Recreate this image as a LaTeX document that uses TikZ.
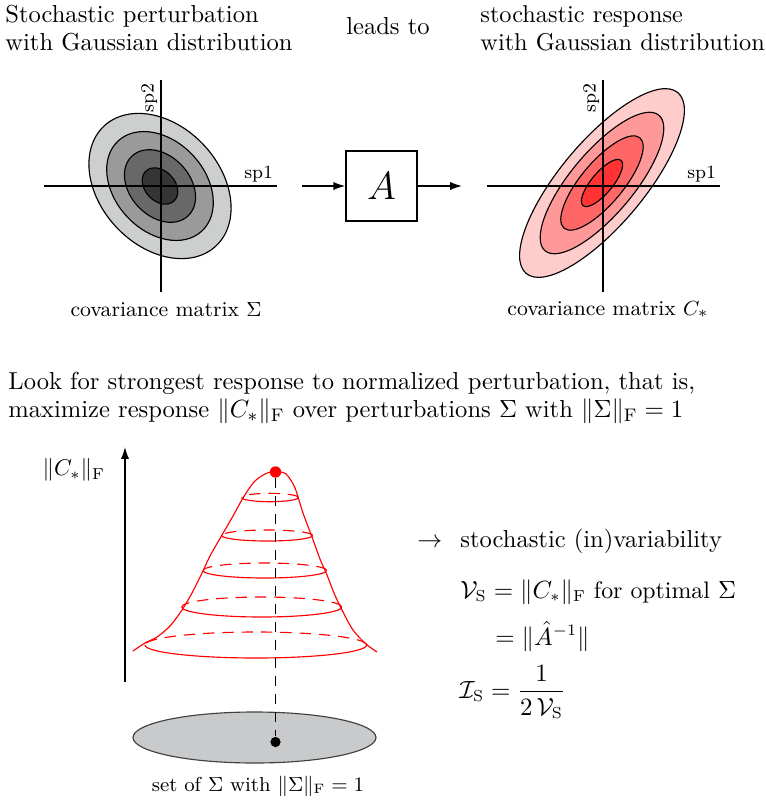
\documentclass[tikz,border=0pt]{standalone}
\usepackage{amsmath}
\usetikzlibrary{arrows.meta}
\definecolor{sigmalight}{RGB}{205,207,207}
\definecolor{sigmamid}{RGB}{154,154,154}
\definecolor{sigmadark}{RGB}{104,104,104}
\definecolor{sigmacore}{RGB}{53,53,53}
\definecolor{resplight}{RGB}{255,204,204}
\definecolor{respmid}{RGB}{255,153,153}
\definecolor{respdark}{RGB}{255,102,102}
\definecolor{respcore}{RGB}{255,51,51}
\definecolor{bellred}{RGB}{255,0,0}
\definecolor{basegray}{RGB}{200,202,203}

\begin{document}
\begin{tikzpicture}[x=0.44pt, y=0.44pt, font=\fontsize{10.8}{12.3}\selectfont, >={Latex[length=5.2pt,width=3.6pt]}]
\useasboundingbox (0,0) rectangle (766,-801);
\node[anchor=north west, align=left, inner sep=0] (titleL) at (5,-5) {Stochastic perturbation\\with Gaussian distribution};
\node[anchor=base] (leads) at (388,-34) {leads to};
\node[anchor=north west, align=left, inner sep=0, font=\fontsize{10.7}{12.3}\selectfont] (titleR) at (480,-5) {stochastic response\\with Gaussian distribution};
\foreach \s/\c in {1/sigmalight, 0.75/sigmamid, 0.5/sigmadark, 0.25/sigmacore}
  \draw[fill=\c, line width=0.5pt, rotate around={-47:(160,-186)}] (160,-186) ellipse [x radius=82*\s, y radius=60*\s];
\coordinate (sigW) at (44,-186);
\coordinate (sigE) at (277,-186);
\coordinate (sigS) at (161,-292);
\coordinate (sigN) at (161,-80);
\draw[line width=0.6pt] (sigW) -- (sigE);
\draw[line width=0.6pt] (sigS) -- (sigN);
\node[anchor=south east, font=\fontsize{8.2}{10}\selectfont, inner sep=1.5pt] (sigone) at (sigE) {sp1};
\node[anchor=south east, rotate=90, font=\fontsize{8.2}{10}\selectfont, inner sep=1.5pt] (sigtwo) at (sigN) {sp2};
\node[anchor=base, font=\fontsize{9.3}{11}\selectfont] (covsig) at (166,-316) {covariance matrix $\Sigma$};
\coordinate (ain) at (302,-186);
\node[draw, line width=0.9pt, minimum size=31pt, font=\fontsize{18}{20}\selectfont] (sysA) at (381.5,-186) {$A$};
\coordinate (aout) at (462,-186);
\draw[->, line width=0.6pt] (ain) -- (sysA);
\draw[->, line width=0.6pt] (sysA) -- (aout);
\foreach \s/\c in {1/resplight, 0.75/respmid, 0.5/respdark, 0.25/respcore}
  \draw[fill=\c, line width=0.5pt, rotate around={50:(602,-183)}] (602,-183) ellipse [x radius=118*\s, y radius=42*\s];
\coordinate (respW) at (487,-186);
\coordinate (respE) at (720,-186);
\coordinate (respS) at (603,-292);
\coordinate (respN) at (603,-80);
\draw[line width=0.7pt] (respW) -- (respE);
\draw[line width=1.1pt] (respS) -- (respN);
\node[anchor=south east, font=\fontsize{8.2}{10}\selectfont, inner sep=1.5pt] (respone) at (respE) {sp1};
\node[anchor=south east, rotate=90, font=\fontsize{8.2}{10}\selectfont, inner sep=1.5pt] (resptwo) at (respN) {sp2};
\node[anchor=base, font=\fontsize{9.3}{11}\selectfont] (covresp) at (608,-315) {covariance matrix $C_*$};
\node[anchor=north west, align=left, inner sep=0] (task) at (8,-372) {Look for strongest response to normalized perturbation, that is,\\maximize response $\|C_*\|_{\mathrm{F}}$ over perturbations $\Sigma$ with $\|\Sigma\|_{\mathrm{F}}=1$};
\coordinate (cbot) at (125,-682);
\coordinate (ctop) at (125,-447);
\draw[->, line width=0.6pt] (cbot) -- (ctop);
\node[anchor=east, font=\normalsize] (cnorm) at (113,-470) {$\|C_*\|_{\mathrm{F}}$};
\draw[fill=basegray, draw=black!75, line width=0.5pt] (254.5,-737.5) ellipse [x radius=121.5, y radius=25.5];
\draw[bellred, line width=0.5pt] plot[smooth, tension=0.5] coordinates {(133,-651) (145,-643) (157,-637) (170,-626) (182,-610) (192,-593) (202,-573) (210,-556) (222,-535) (233,-516) (243,-498) (254,-482) (265,-474) (275,-471.5) (286,-474) (295,-488) (303,-513) (312,-537) (320,-559) (327,-575) (334,-593) (342,-610) (353,-630) (366,-644) (377,-652)};
\foreach \cx/\cy/\rx/\ry in {270/497.5/28.3/4.2, 267.2/535.5/45.5/5.5, 264.8/570.5/61.8/7.5, 261.7/607/80/10, 255.8/645/110.8/13} {
  \draw[bellred, line width=0.5pt] (\cx-\rx,-\cy) arc[start angle=180, end angle=360, x radius=\rx, y radius=\ry];
  \draw[bellred, line width=0.5pt, dash pattern=on 5pt off 3.5pt] (\cx+\rx,-\cy) arc[start angle=0, end angle=180, x radius=\rx, y radius=\ry];
}
\node[circle, fill=bellred, inner sep=0, minimum size=5pt] (peak) at (275.5,-472) {};
\node[circle, fill=black, inner sep=0, minimum size=4.5pt] (opt) at (275.5,-742) {};
\draw[line width=0.6pt, dash pattern=on 4.4pt off 3.5pt] (peak) -- (opt);
\node[anchor=base, font=\fontsize{8.9}{10.5}\selectfont] (setsig) at (258,-791) {set of $\Sigma$ with $\|\Sigma\|_{\mathrm{F}}=1$};
\node[anchor=base west, inner sep=0] (arr) at (417,-547) {$\rightarrow$};
\node[anchor=base west, inner sep=0] (invar) at (460,-547) {stochastic (in)variability};
\node[anchor=base west, inner sep=0, font=\fontsize{10.5}{12}\selectfont] (vs) at (460,-598) {$\mathcal{V}_{\mathrm{S}}=\|C_*\|_{\mathrm{F}}$ for optimal $\Sigma$};
\node[anchor=base west, inner sep=0, font=\fontsize{10.5}{12}\selectfont] (vsinv) at (495,-645) {$=\|\hat{A}^{-1}\|$};
\node[anchor=base west, inner sep=0, font=\fontsize{10.5}{12}\selectfont] (is) at (459,-698) {$\mathcal{I}_{\mathrm{S}}=\dfrac{1}{2\,\mathcal{V}_{\mathrm{S}}}$};
\end{tikzpicture}
\end{document}
